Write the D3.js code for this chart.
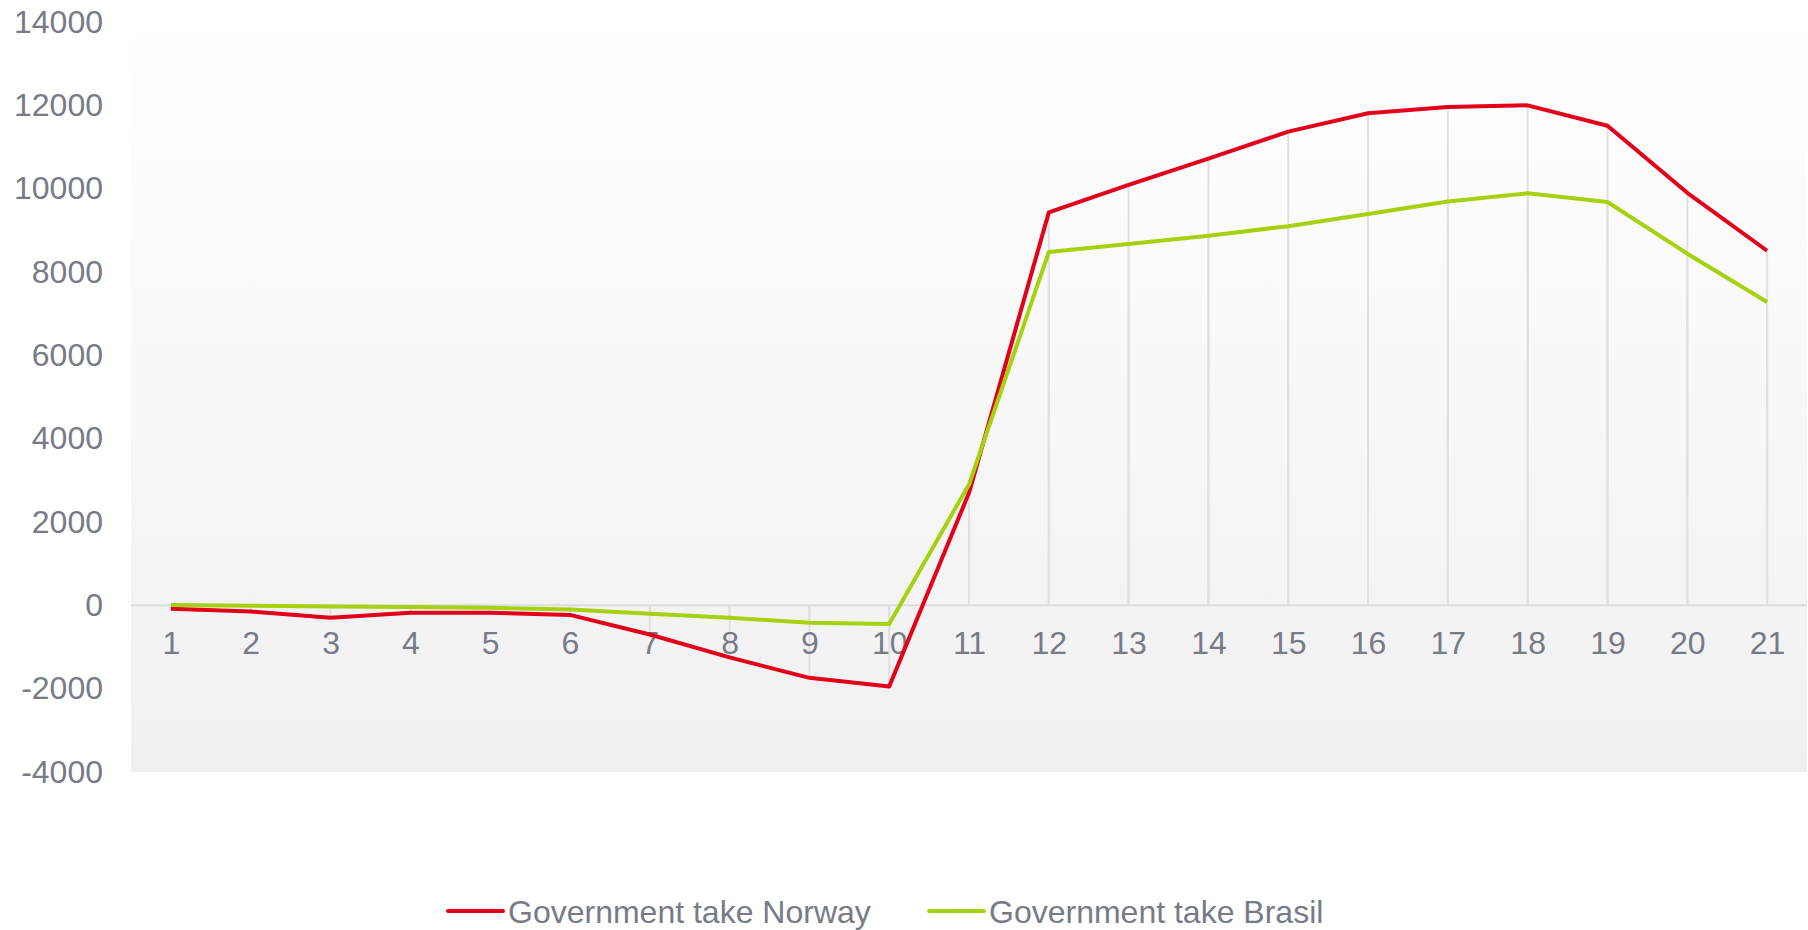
<!DOCTYPE html>
<html>
<head>
<meta charset="utf-8">
<script src="https://cdn.jsdelivr.net/npm/d3@7"></script>
<style>
  html, body { margin: 0; padding: 0; background: #fff; }
  text { font-family: "Liberation Sans", Arial, sans-serif; }
</style>
</head>
<body>
<div id="chart"></div>
<script>
const categories = ['1','2','3','4','5','6','7','8','9','10','11','12','13','14','15','16','17','18','19','20','21'];
const norway = [-80, -150, -300, -180, -180, -230, -700, -1250, -1740, -1950, 2700, 9430, 10090, 10720, 11370, 11810, 11960, 12000, 11510, 9900, 8510];
const brasil = [10, -10, -30, -40, -60, -100, -200, -300, -420, -450, 2900, 8480, 8670, 8870, 9100, 9390, 9690, 9890, 9680, 8440, 7280];
const seriesNames = ['Government take Norway', 'Government take Brasil'];
const yTicks = [-4000, -2000, 0, 2000, 4000, 6000, 8000, 10000, 12000, 14000];

const width = 1808, height = 930;
const margin = {top: 22, right: 1, bottom: 158, left: 131};
const textColor = '#767b87';
const fontSize = '32px';
const colors = ['#e2001a', '#a6d10f'];

const svg = d3.select('#chart')
    .append('svg')
    .attr('width', width)
    .attr('height', height);

const xScale = d3.scalePoint()
    .domain(categories)
    .range([margin.left, width - margin.right])
    .padding(0.5);
const yScale = d3.scaleLinear()
    .domain([-4000, 14000])
    .range([height - margin.bottom, margin.top]);

// plot background
const grad = svg.append('defs').append('linearGradient')
    .attr('id', 'bg')
    .attr('x1', 0).attr('y1', 0).attr('x2', 0).attr('y2', 1);
grad.append('stop').attr('offset', '0%').attr('stop-color', '#ffffff');
grad.append('stop').attr('offset', '100%').attr('stop-color', '#f0f0f0');

svg.append('rect')
    .attr('x', margin.left)
    .attr('y', margin.top)
    .attr('width', width - margin.left - margin.right)
    .attr('height', yScale(-4000) - margin.top)
    .attr('fill', 'url(#bg)');

// drop lines from zero to every point
const series = [norway, brasil];
series.forEach((vals) => {
    svg.append('g')
        .selectAll('line')
        .data(vals)
        .join('line')
        .attr('x1', (d, i) => xScale(categories[i]))
        .attr('x2', (d, i) => xScale(categories[i]))
        .attr('y1', yScale(0))
        .attr('y2', (d) => yScale(d))
        .attr('stroke', '#e0e0e0')
        .attr('stroke-width', 2);
});

// zero line
svg.append('line')
    .attr('x1', margin.left)
    .attr('x2', width - margin.right)
    .attr('y1', yScale(0))
    .attr('y2', yScale(0))
    .attr('stroke', '#dcdcdc')
    .attr('stroke-width', 2);

// y axis
const yAxis = svg.append('g')
    .attr('transform', `translate(${margin.left},0)`)
    .call(d3.axisLeft(yScale).tickValues(yTicks).tickSize(0).tickPadding(28).tickFormat((d) => String(d)));
yAxis.select('.domain').remove();
yAxis.selectAll('text')
    .attr('fill', textColor)
    .style('font-size', fontSize)
    .style('font-family', '"Liberation Sans", Arial, sans-serif');

// x axis on the zero line
const xAxis = svg.append('g')
    .attr('transform', `translate(0,${yScale(0)})`)
    .call(d3.axisBottom(xScale).tickSize(0).tickPadding(26));
xAxis.select('.domain').remove();
xAxis.selectAll('text')
    .attr('fill', textColor)
    .style('font-size', fontSize)
    .style('font-family', '"Liberation Sans", Arial, sans-serif');

// series lines
const line = d3.line()
    .x((d, i) => xScale(categories[i]))
    .y((d) => yScale(d));

series.forEach((vals, k) => {
    svg.append('path')
        .datum(vals)
        .attr('fill', 'none')
        .attr('stroke', colors[k])
        .attr('stroke-width', 4)
        .attr('stroke-linejoin', 'round')
        .attr('d', line);
});

// legend
const legendX = [448, 929];
const legendY = 911;
seriesNames.forEach((name, k) => {
    const g = svg.append('g').attr('transform', `translate(${legendX[k]},${legendY})`);
    g.append('line')
        .attr('x1', 0).attr('x2', 55)
        .attr('y1', 0).attr('y2', 0)
        .attr('stroke', colors[k])
        .attr('stroke-width', 4)
        .attr('stroke-linecap', 'round');
    g.append('text')
        .attr('x', 60)
        .attr('y', 0)
        .attr('dy', '0.36em')
        .attr('fill', textColor)
        .style('font-size', fontSize)
        .text(name);
});
</script>
</body>
</html>
